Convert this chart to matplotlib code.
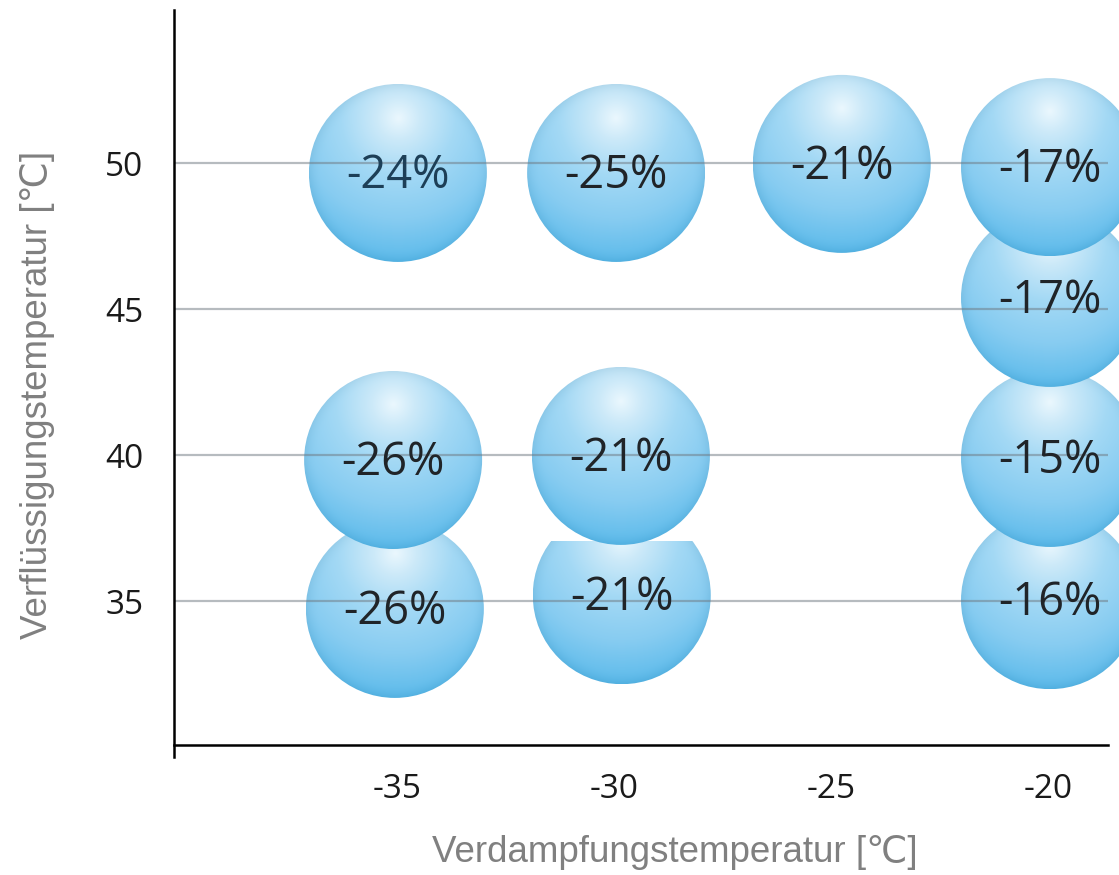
import numpy as np
import matplotlib
matplotlib.use("Agg")
import matplotlib.pyplot as plt
from matplotlib.patches import Ellipse

# ---- data -------------------------------------------------------------
evap_temp = [-34.98, -29.95, -24.75, -19.95, -19.95, -35.09, -29.84, -19.95, -35.05, -29.82, -19.95]
cond_temp = [49.66, 49.66, 49.97, 49.86, 45.38, 39.83, 39.97, 39.90, 34.73, 35.20, 35.03]
labels = ["-24%", "-25%", "-21%", "-17%", "-17%", "-26%", "-21%", "-15%", "-26%", "-21%", "-16%"]
x_ticks = [-35, -30, -25, -20]
y_ticks = [35, 40, 45, 50]
x_label = "Verdampfungstemperatur [℃]"
y_label = "Verflüssigungstemperatur [℃]"

# ---- layout -----------------------------------------------------------
W, H = 1119, 875
fig = plt.figure(figsize=(W / 100, H / 100), dpi=100)
ax_l, ax_b = 174 / W, 1 - 745 / H
ax_w, ax_h = 1 - ax_l, (745 - 10) / H
ax = fig.add_axes([ax_l, ax_b, ax_w, ax_h])
xmin, xmax = -40.14, -18.36
ymin, ymax = 30.07, 55.24
ax.set_xlim(xmin, xmax)
ax.set_ylim(ymin, ymax)

px_x = ax_w * W / (xmax - xmin)
px_y = ax_h * H / (ymax - ymin)
R = 89.0  # bubble radius in pixels
rx, ry = R / px_x, R / px_y

# radial gradient image
N = 300
u = np.linspace(-1, 1, N)
U, V = np.meshgrid(u, -u)
d = np.sqrt(U ** 2 + (V - 0.62) ** 2) / 1.62
d = np.clip(d, 0, 1)
stops = [0.0, 0.15, 0.40, 0.70, 1.0]
cols = np.array([
    [0.92, 0.97, 0.995],
    [0.80, 0.915, 0.975],
    [0.64, 0.85, 0.96],
    [0.53, 0.80, 0.945],
    [0.36, 0.73, 0.92],
])
img = np.zeros((N, N, 3))
for c in range(3):
    img[..., c] = np.interp(d, stops, cols[:, c])
rr = np.sqrt(U ** 2 + V ** 2)
rim = np.clip((rr - 0.85) / 0.15, 0, 1) ** 2 * 0.04
img = np.clip(img - rim[..., None], 0, 1)

cut_top = {9: 37.02}

order = np.argsort(cond_temp)
for z, i in enumerate(order):
    cx, cy = evap_temp[i], cond_temp[i]
    top = cut_top.get(i, cy + ry)
    frac = (cy + ry - top) / (2 * ry)
    sub = img[int(round(frac * N)):, :, :]
    e = Ellipse((cx, cy), 2 * rx, 2 * ry, transform=ax.transData,
                facecolor="none", edgecolor="none")
    ax.add_patch(e)
    im = ax.imshow(sub, extent=[cx - rx, cx + rx, cy - ry, top],
                   origin="upper", aspect="auto", zorder=2 + z * 0.01,
                   interpolation="bilinear")
    im.set_clip_path(e)

ax.set_xlim(xmin, xmax)
ax.set_ylim(ymin, ymax)

# grid lines over bubbles
ax.hlines(y_ticks, xmin, -18.62, colors="#6f7880", alpha=0.5, lw=1.6, zorder=3)

for i in range(len(labels)):
    ax.text(evap_temp[i], cond_temp[i] - 0.1, labels[i], ha="center", va="center",
            fontsize=32.5, family="Open Sans",
            color="#1d3f57" if i == 0 else "#202428", zorder=4)

# spines
for s in ["top", "right"]:
    ax.spines[s].set_visible(False)
ax.spines["left"].set_linewidth(1.8)
ax.spines["bottom"].set_linewidth(1.8)
ax.spines["left"].set_bounds(29.66, ymax)
ax.spines["bottom"].set_bounds(xmin, -18.62)
for s in ["left", "bottom"]:
    ax.spines[s].set_zorder(5)

ax.set_xticks(x_ticks)
ax.set_yticks(y_ticks)
ax.set_xticklabels([str(t) for t in x_ticks])
ax.set_yticklabels([str(t) for t in y_ticks])
ax.tick_params(axis="both", length=0, labelsize=24, labelcolor="#1a1a1a")
ax.tick_params(axis="x", pad=20)
ax.tick_params(axis="y", pad=22)
for lab in ax.get_xticklabels() + ax.get_yticklabels():
    lab.set_family("Open Sans")

fig.text(675 / W, 1 - 852 / H, x_label, ha="center", va="center",
         fontsize=26.5, color="#808080", family=["Liberation Sans", "DejaVu Sans"])
fig.text(38 / W, 1 - 395 / H, y_label, ha="center", va="center", rotation=90,
         fontsize=26.5, color="#808080", family=["Liberation Sans", "DejaVu Sans"])

fig.savefig("out.png", dpi=100)
